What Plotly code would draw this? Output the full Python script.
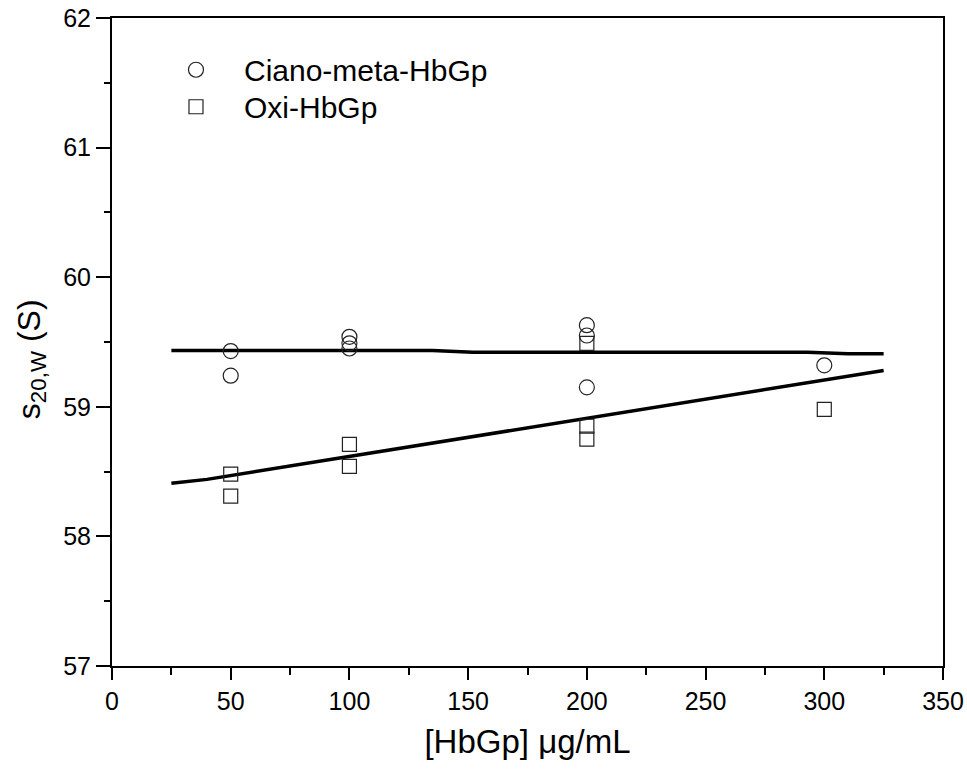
import plotly.graph_objects as go

# Data
ciano_x = [50, 50, 100, 100, 100, 200, 200, 200, 300]
ciano_y = [59.43, 59.24, 59.54, 59.49, 59.45, 59.63, 59.55, 59.15, 59.32]

oxi_x = [50, 50, 100, 100, 200, 200, 200, 300]
oxi_y = [58.48, 58.31, 58.71, 58.54, 59.49, 58.85, 58.75, 58.98]

fit1_x = [25, 135, 152, 293, 310, 325]
fit1_y = [59.435, 59.435, 59.42, 59.42, 59.41, 59.41]

fit2_x = [25, 40, 325]
fit2_y = [58.41, 58.44, 59.28]

x_ticks = [0, 50, 100, 150, 200, 250, 300, 350]
y_ticks = [57, 58, 59, 60, 61, 62]

FONT = "Arial, Liberation Sans, sans-serif"

fig = go.Figure()
fig.add_trace(go.Scatter(x=fit1_x, y=fit1_y, mode="lines",
                         line=dict(color="black", width=3.5),
                         showlegend=False, hoverinfo="skip"))
fig.add_trace(go.Scatter(x=fit2_x, y=fit2_y, mode="lines",
                         line=dict(color="black", width=3.5),
                         showlegend=False, hoverinfo="skip"))
fig.add_trace(go.Scatter(x=ciano_x, y=ciano_y, mode="markers",
                         name="Ciano-meta-HbGp", legend="legend",
                         marker=dict(symbol="circle-open", size=15,
                                     color="#222222", line=dict(width=1.2, color="#222222"))))
fig.add_trace(go.Scatter(x=oxi_x, y=oxi_y, mode="markers",
                         name="Oxi-HbGp", legend="legend2",
                         marker=dict(symbol="square-open", size=14,
                                     color="#222222", line=dict(width=1.2, color="#222222"))))

axis_common = dict(
    showgrid=False, zeroline=False, showline=True, linecolor="black",
    linewidth=2, mirror=True, ticks="outside", tickcolor="black",
    tickwidth=2, tickfont=dict(family=FONT, size=25, color="black"),
    automargin=False,
)

fig.update_xaxes(
    range=[0, 350], tickvals=x_ticks, ticklen=12,
    minor=dict(ticks="outside", dtick=25, tick0=0, ticklen=7, tickwidth=2, tickcolor="black"),
    title=dict(text="[HbGp] μg/mL", font=dict(family=FONT, size=33, color="black"), standoff=16),
    **axis_common,
)
fig.update_yaxes(
    range=[57, 62], tickvals=y_ticks, ticklen=14,
    minor=dict(ticks="outside", dtick=0.5, tick0=57, ticklen=6, tickwidth=2, tickcolor="black"),
    **axis_common,
)

fig.add_annotation(
    text="s<sub>20,W</sub> (S)", textangle=-90,
    xref="paper", yref="paper", x=-0.097, y=0.474,
    xanchor="center", yanchor="middle", showarrow=False,
    font=dict(family=FONT, size=32, color="black"),
)

leg_common = dict(xanchor="left", yanchor="top", bgcolor="rgba(0,0,0,0)",
                  font=dict(family=FONT, size=30, color="black"), itemwidth=86)

fig.update_layout(
    width=967, height=770,
    margin=dict(l=112, r=24, t=18, b=104),
    paper_bgcolor="white", plot_bgcolor="white",
    font=dict(family=FONT, color="black"),
    legend=dict(x=0.0433, y=0.9603, **leg_common),
    legend2=dict(x=0.0433, y=0.9032, **leg_common),
)

fig.write_html("out.html")
